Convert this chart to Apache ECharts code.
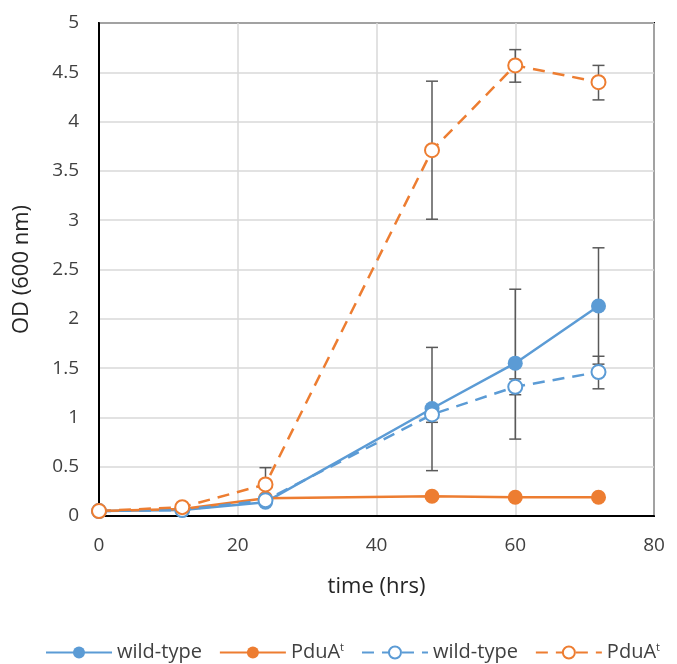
<!DOCTYPE html>
<html>
<head>
<meta charset="utf-8">
<script src="https://cdn.jsdelivr.net/npm/echarts@6/dist/echarts.min.js"></script>
<style>
  html, body { margin: 0; padding: 0; background: #fff; }
  #chart { width: 677px; height: 664px; }
</style>
</head>
<body>
<div id="chart"></div>
<script>
// time points (hrs)
var hours = [0, 12, 24, 48, 60, 72];

// OD600 readings
var wtSolid   = [0.05, 0.06, 0.14, 1.09, 1.55, 2.13];
var pduSolid  = [0.05, 0.07, 0.18, 0.20, 0.19, 0.19];
var wtDashed  = [0.05, 0.06, 0.16, 1.03, 1.31, 1.46];
var pduDashed = [0.05, 0.09, 0.32, 3.71, 4.57, 4.40];

// error bars: [hour, low, high]
var wtSolidErr   = [[48, 0.46, 1.71], [60, 0.78, 2.30], [72, 1.54, 2.72]];
var wtDashedErr  = [[48, 0.95, 1.11], [60, 1.23, 1.39], [72, 1.29, 1.62]];
var pduDashedErr = [[24, 0.16, 0.49], [48, 3.01, 4.41], [60, 4.40, 4.73], [72, 4.22, 4.57]];

var yTicks = [0, 0.5, 1, 1.5, 2, 2.5, 3, 3.5, 4, 4.5, 5];

var BLUE = '#5B9BD5';
var ORANGE = '#ED7D31';
var FONT = 'Open Sans';

function pairs(ys) {
    return hours.map(function (h, i) { return [h, ys[i]]; });
}

// vertical bar with caps
function errorRender(params, api) {
    var top = api.coord([api.value(0), api.value(2)]);
    var bot = api.coord([api.value(0), api.value(1)]);
    var w = 6;
    var st = { stroke: '#595959', lineWidth: 1.5 };
    return {
        type: 'group',
        children: [
            { type: 'line', shape: { x1: top[0], y1: top[1], x2: bot[0], y2: bot[1] }, style: st },
            { type: 'line', shape: { x1: top[0] - w, y1: top[1], x2: top[0] + w, y2: top[1] }, style: st },
            { type: 'line', shape: { x1: bot[0] - w, y1: bot[1], x2: bot[0] + w, y2: bot[1] }, style: st }
        ]
    };
}

function errSeries(data) {
    return {
        type: 'custom',
        renderItem: errorRender,
        data: data,
        z: 1,
        silent: true,
        encode: { x: 0, y: [1, 2] }
    };
}

var myChart = echarts.init(document.getElementById('chart'));

myChart.setOption({
    animation: false,
    grid: { left: 99, right: 23, top: 23, bottom: 148, containLabel: false,
            show: true, borderColor: '#000', borderWidth: 2 },
    legend: {
        top: 637,
        left: 40,
        itemWidth: 66,
        itemHeight: 15,
        itemGap: 17,
        textStyle: { fontFamily: FONT, fontSize: 20, color: '#404040',
                     rich: { sup: { fontSize: 11, verticalAlign: 'top', padding: [0, 0, 10, 0], fontFamily: FONT, color: '#404040' } } },
        formatter: function (name) {
            return name.indexOf('PduA') === 0 ? 'PduA{sup|t}' : 'wild-type';
        },
        data: ['wild-type', 'PduA', 'wild-type ', 'PduA ']
    },
    xAxis: {
        type: 'value',
        min: 0, max: 80, interval: 20,
        name: 'time (hrs)',
        nameLocation: 'middle',
        nameGap: 60,
        nameTextStyle: { fontFamily: FONT, fontSize: 22, color: '#262626' },
        axisLine: { show: true, lineStyle: { color: '#000', width: 2 } },
        axisTick: { show: false },
        axisLabel: { fontFamily: FONT, fontSize: 19, color: '#404040', margin: 20 },
        splitLine: { show: true, lineStyle: { color: '#d9d9d9', width: 1.5 } }
    },
    yAxis: {
        type: 'value',
        min: 0, max: 5, interval: 0.5,
        name: 'OD (600 nm)',
        nameLocation: 'middle',
        nameGap: 66,
        nameTextStyle: { fontFamily: FONT, fontSize: 22, color: '#262626' },
        axisLine: { show: true, lineStyle: { color: '#000', width: 2 } },
        axisTick: { show: false },
        axisLabel: { fontFamily: FONT, fontSize: 19, color: '#404040', margin: 20,
                     formatter: function (v) { return yTicks.indexOf(v) >= 0 ? String(v) : ''; } },
        splitLine: { show: true, lineStyle: { color: '#d9d9d9', width: 1.5 } }
    },
    series: [
        errSeries(wtSolidErr),
        errSeries(wtDashedErr),
        errSeries(pduDashedErr),
        {
            name: 'wild-type', type: 'line', data: pairs(wtSolid),
            symbol: 'circle', symbolSize: 15, clip: false, z: 3,
            itemStyle: { color: BLUE },
            lineStyle: { color: BLUE, width: 2.5 }
        },
        {
            name: 'PduA', type: 'line', data: pairs(pduSolid),
            symbol: 'circle', symbolSize: 15, clip: false, z: 3,
            itemStyle: { color: ORANGE },
            lineStyle: { color: ORANGE, width: 2.5 }
        },
        {
            name: 'wild-type ', type: 'line', data: pairs(wtDashed),
            symbol: 'emptyCircle', symbolSize: 14, clip: false, z: 3,
            itemStyle: { color: BLUE, borderWidth: 2, borderColor: BLUE },
            lineStyle: { color: BLUE, width: 2.5, type: [12, 8] }
        },
        {
            name: 'PduA ', type: 'line', data: pairs(pduDashed),
            symbol: 'emptyCircle', symbolSize: 14, clip: false, z: 3,
            itemStyle: { color: ORANGE, borderWidth: 2, borderColor: ORANGE },
            lineStyle: { color: ORANGE, width: 2.5, type: [12, 8] }
        }
    ]
});
</script>
</body>
</html>
